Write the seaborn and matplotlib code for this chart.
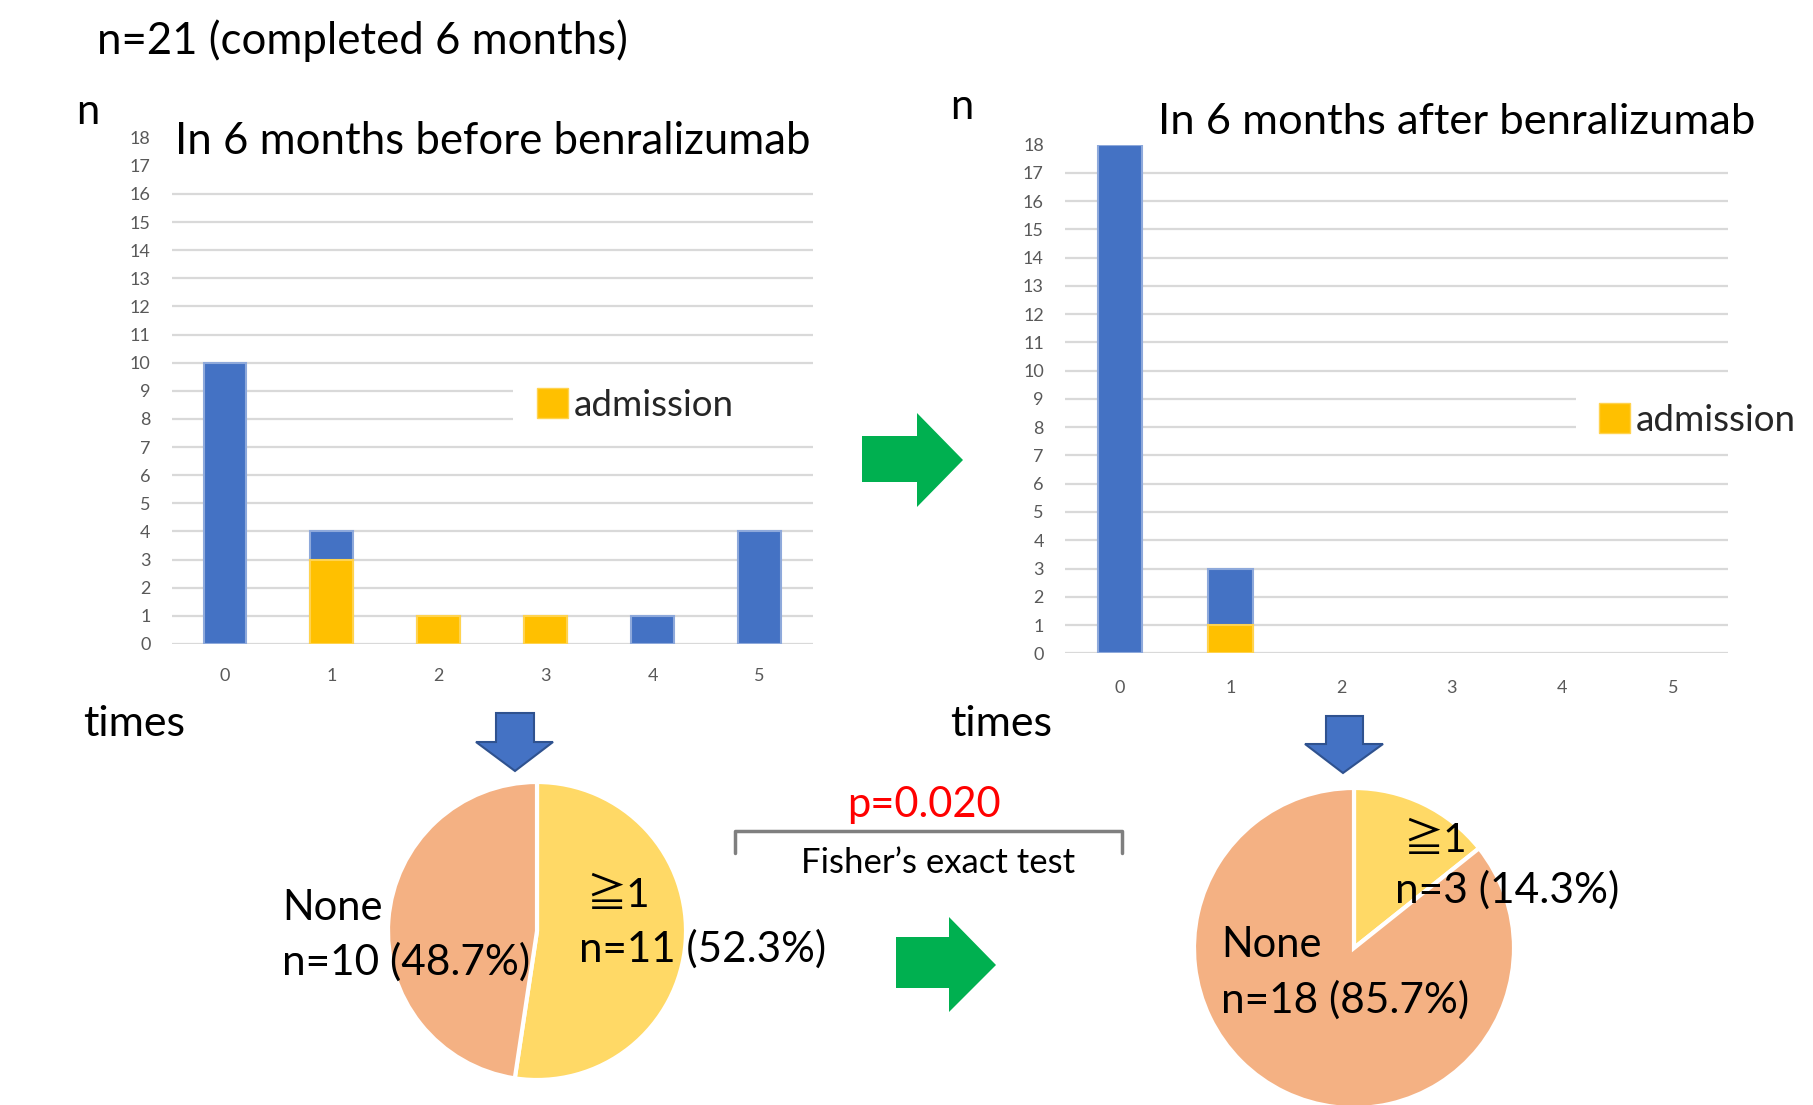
import matplotlib
matplotlib.use("Agg")
import matplotlib.pyplot as plt
from matplotlib.patches import Polygon, Patch, Rectangle
from matplotlib.lines import Line2D
import pandas as pd
import seaborn as sns

# Exacerbation counts per patient (n=21), split by whether an admission occurred
times = ["0", "1", "2", "3", "4", "5"]
before_admission = [0, 3, 1, 1, 0, 0]
before_no_admission = [10, 1, 0, 0, 1, 4]
after_admission = [0, 1, 0, 0, 0, 0]
after_no_admission = [18, 2, 0, 0, 0, 0]
y_ticks = list(range(0, 19))

# Patients with >=1 exacerbation vs none
pie_before = [11, 10]
pie_after = [3, 18]
before_labels = ["≧1", "n=11 (52.3%)", "None", "n=10 (48.7%)"]
after_labels = ["≧1", "n=3 (14.3%)", "None", "n=18 (85.7%)"]

W, H = 1813, 1105
BLUE = "#4472C4"
BLUE_EDGE = "#8EA9DB"
YELLOW = "#FFC000"
YELLOW_EDGE = "#FFD34F"
PIE_YELLOW = "#FFD966"
PIE_ORANGE = "#F4B183"
GREEN = "#00B050"
ARROW_BLUE = "#4472C4"
ARROW_BLUE_EDGE = "#2F528F"
TICK_GREY = "#595959"

sns.set_theme(style="white")
plt.rcParams["font.family"] = ["Lato", "Noto Sans CJK JP", "DejaVu Sans"]

fig = plt.figure(figsize=(W / 100, H / 100), dpi=100)


def fx(x):
    return x / W


def fy(y):
    return 1 - y / H


def ftext(x, y, s, size, color="black", **kw):
    fig.text(fx(x), fy(y), s, fontsize=size, color=color, ha="left", va="baseline", **kw)


def bar_panel(left, top, right, bottom, admission, other, hidden_grid, cover_x0,
              legend_xy, xpad):
    ax = fig.add_axes([fx(left), fy(bottom), (right - left) / W, (bottom - top) / H])
    total = [a + o for a, o in zip(admission, other)]
    df = pd.DataFrame({"times": times, "total": total, "admission": admission})
    sns.barplot(data=df, x="times", y="total", order=times, color=BLUE, saturation=1,
                width=0.4, edgecolor=BLUE_EDGE, linewidth=1.5, errorbar=None, ax=ax,
                zorder=2)
    sns.barplot(data=df, x="times", y="admission", order=times, color=YELLOW, saturation=1,
                width=0.4, edgecolor=YELLOW_EDGE, linewidth=1.5, errorbar=None, ax=ax,
                zorder=3)
    for p in ax.patches:
        if p.get_height() == 0:
            p.set_visible(False)
    ax.set_xlim(-0.5, 5.5)
    ax.set_ylim(0, 18)
    ax.set_yticks(y_ticks)
    ax.set_xlabel("")
    ax.set_ylabel("")
    ax.set_axisbelow(True)
    ax.grid(axis="y", color="#D9D9D9", linewidth=1.6)
    ax.grid(axis="x", visible=False)
    for i in hidden_grid:
        ax.yaxis.get_gridlines()[i].set_visible(False)
    # white backing behind the legend entry
    ax.add_patch(Rectangle((cover_x0, 7.5), 5.5 - cover_x0, 2.0, facecolor="white",
                           edgecolor="none", zorder=1))
    ax.tick_params(axis="y", length=0, pad=15, labelsize=13, labelcolor=TICK_GREY)
    ax.tick_params(axis="x", length=0, pad=xpad, labelsize=13, labelcolor=TICK_GREY)
    sns.despine(ax=ax, left=True, bottom=True)
    ax.legend(handles=[Patch(facecolor=YELLOW, edgecolor=YELLOW_EDGE, label="admission")],
              loc="center left", bbox_to_anchor=(fx(legend_xy[0]), fy(legend_xy[1])),
              bbox_transform=fig.transFigure, frameon=False, fontsize=26.5,
              handlelength=0.85, handleheight=0.85, handletextpad=0.15,
              borderpad=0, borderaxespad=0)
    return ax


def pie_panel(cx, cy, r, values):
    ax = fig.add_axes([fx(cx - r), fy(cy + r), 2 * r / W, 2 * r / H])
    ax.pie(values, colors=[PIE_YELLOW, PIE_ORANGE], startangle=90, counterclock=False,
           wedgeprops=dict(edgecolor="white", linewidth=3))
    ax.set_xlim(-1, 1)
    ax.set_ylim(-1, 1)
    ax.set_aspect("equal")
    ax.axis("off")
    return ax


def add_shape(points, face, edge=None, lw=0):
    pts = [(fx(x), fy(y)) for x, y in points]
    fig.add_artist(Polygon(pts, closed=True, facecolor=face,
                           edgecolor=edge if edge else face, linewidth=lw,
                           transform=fig.transFigure))


# Bar charts
bar_panel(171.5, 137.6, 813, 644, before_admission, before_no_admission,
          hidden_grid=[17, 18], cover_x0=2.69, legend_xy=(537, 405), xpad=17)
bar_panel(1064.7, 144.5, 1728.3, 653.3, after_admission, after_no_admission,
          hidden_grid=[18], cover_x0=4.12, legend_xy=(1599, 420), xpad=19)

# Pie charts
pie_panel(537, 931, 149, pie_before)
pie_panel(1354, 948, 160, pie_after)

# Header and axis annotations
ftext(97, 54, "n=21 (completed 6 months)", 31.5)
ftext(76, 124, "n", 30)
ftext(950, 119, "n", 30)
ftext(175, 154, "In 6 months before benralizumab", 31.5)
ftext(1158, 134, "In 6 months after benralizumab", 31.3)
ftext(83, 736, "times", 31)
ftext(950, 736, "times", 31)

# Pie labels
ftext(586, 907, before_labels[0], 29)
ftext(579, 962, before_labels[1], 30.3)
ftext(282, 920, before_labels[2], 30)
ftext(282, 975, before_labels[3], 30.5)
ftext(1403, 852, after_labels[0], 29)
ftext(1395, 903, after_labels[1], 30.6)
ftext(1221, 957, after_labels[2], 30)
ftext(1221, 1013, after_labels[3], 30.5)

# Significance bracket
fig.add_artist(Line2D([fx(735), fx(735), fx(1122), fx(1122)],
                      [fy(853), fy(831), fy(831), fy(853)],
                      color="#7F7F7F", linewidth=2.5, transform=fig.transFigure))
ftext(847, 817, "p=0.020", 30, color="#FF0000")
ftext(801, 873, "Fisher’s exact test", 25)

# Green arrows (before -> after)
add_shape([(862, 436), (917, 436), (917, 413), (963, 460), (917, 507), (917, 482),
           (862, 482)], GREEN)
add_shape([(896, 937), (949, 937), (949, 917), (996, 965), (949, 1012), (949, 988),
           (896, 988)], GREEN)

# Blue arrows (bar chart -> pie)
add_shape([(496, 713), (534, 713), (534, 742), (553, 742), (515, 771), (476, 742),
           (496, 742)], ARROW_BLUE, ARROW_BLUE_EDGE, 1.5)
add_shape([(1326, 716), (1363, 716), (1363, 744), (1383, 744), (1343, 773), (1305, 744),
           (1326, 744)], ARROW_BLUE, ARROW_BLUE_EDGE, 1.5)

fig.savefig("out.png", dpi=100)
